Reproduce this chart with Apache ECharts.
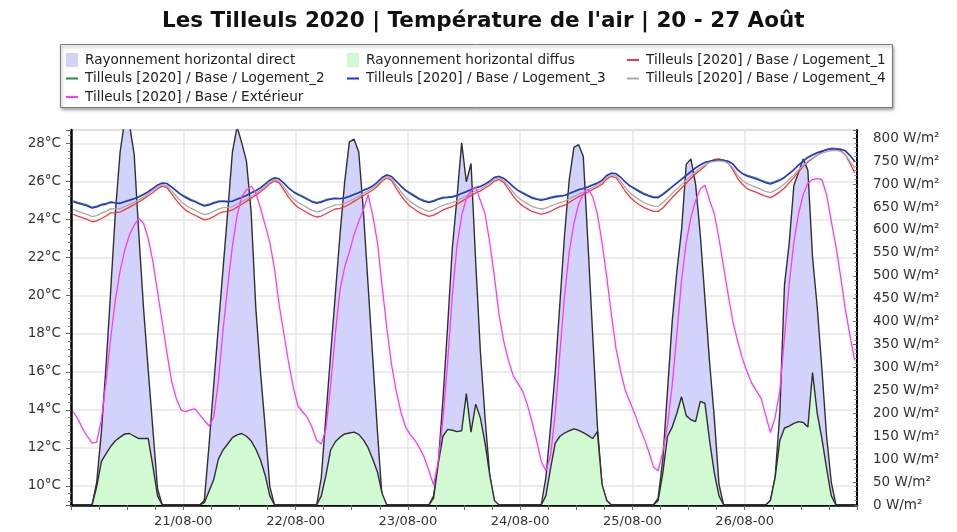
<!DOCTYPE html>
<html>
<head>
<meta charset="utf-8">
<script src="https://cdn.jsdelivr.net/npm/echarts@6/dist/echarts.min.js"></script>
<style>
  html, body { margin: 0; padding: 0; background: #ffffff; }
  #chart { width: 957px; height: 532px; }
</style>
</head>
<body>
<div id="chart"></div>
<script>
// Hourly values (sampled at hh:30), one row of 24 per day, 20/08 to 26/08.
const dayTickLabels = ['21/08-00', '22/08-00', '23/08-00', '24/08-00', '25/08-00', '26/08-00'];

// Horizontal solar radiation, W/m²
const directRad = [
  [0,0,0,0,0,50,160,305,470,640,770,840,830,765,590,430,295,165,35,0,0,0,0,0],
  [0,0,0,0,10,130,260,390,515,640,770,825,790,750,640,430,290,170,40,0,0,0,0,0],
  [0,0,0,0,0,60,195,330,460,590,705,792,798,770,640,480,320,160,15,0,0,0,0,0],
  [0,0,0,0,0,20,90,230,390,560,670,790,705,745,530,335,190,65,5,0,0,0,0,0],
  [0,0,0,0,0,60,170,290,440,590,710,780,786,760,570,372,174,43,10,0,0,0,0,0],
  [0,0,0,0,0,15,100,250,400,510,600,743,755,700,590,450,310,190,45,0,0,0,0,0],
  [0,0,0,0,0,10,60,200,480,570,697,725,755,730,540,432,296,150,50,0,0,0,0,0]
];
const diffuseRad = [
  [0,0,0,0,0,40,95,112,128,140,148,155,156,150,145,145,145,85,20,0,0,0,0,0],
  [0,0,0,0,5,30,55,100,120,133,147,153,156,150,140,122,98,65,20,0,0,0,0,0],
  [0,0,0,0,0,20,65,120,138,148,155,157,159,154,142,125,100,72,25,0,0,0,0,0],
  [0,0,0,0,0,15,90,150,165,163,160,162,243,159,220,190,135,65,10,0,0,0,0,0],
  [0,0,0,0,0,20,80,135,150,157,162,166,163,158,152,145,160,45,10,0,0,0,0,0],
  [0,0,0,0,0,10,70,150,170,200,236,195,186,182,226,222,140,70,20,0,0,0,0,0],
  [0,0,0,0,0,10,60,140,168,172,178,182,180,170,289,200,145,80,20,0,0,0,0,0]
];

// Air temperature, °C
const logement1 = [
  [24.27,24.17,24.08,24.00,23.88,23.93,24.05,24.18,24.35,24.36,24.39,24.52,24.65,24.78,24.92,25.08,25.25,25.42,25.62,25.75,25.68,25.35,25.02,24.72],
  [24.49,24.34,24.22,24.10,23.98,24.03,24.15,24.30,24.40,24.43,24.50,24.65,24.80,24.95,25.12,25.28,25.45,25.65,25.87,26.03,25.92,25.55,25.17,24.87],
  [24.64,24.50,24.35,24.22,24.13,24.18,24.30,24.43,24.55,24.58,24.67,24.80,24.95,25.10,25.26,25.40,25.55,25.75,26.02,26.18,26.05,25.65,25.27,24.94],
  [24.69,24.52,24.35,24.25,24.16,24.23,24.35,24.50,24.60,24.68,24.80,24.95,25.10,25.25,25.39,25.50,25.65,25.80,26.02,26.10,25.95,25.60,25.24,24.94],
  [24.72,24.57,24.42,24.35,24.28,24.33,24.42,24.56,24.67,24.75,24.90,25.05,25.20,25.32,25.44,25.58,25.70,25.85,26.12,26.27,26.20,25.85,25.47,25.17],
  [24.94,24.77,24.62,24.52,24.43,24.42,24.60,24.88,25.15,25.40,25.65,25.90,26.15,26.40,26.60,26.80,27.05,27.15,27.18,27.12,26.95,26.60,26.15,25.85],
  [25.62,25.52,25.42,25.32,25.22,25.15,25.28,25.45,25.65,25.92,26.20,26.50,26.78,27.02,27.20,27.38,27.55,27.68,27.75,27.73,27.62,27.40,26.95,26.45]
];
const logement2 = [
  [24.98,24.90,24.83,24.75,24.65,24.70,24.80,24.85,24.93,24.89,24.87,24.95,25.03,25.11,25.21,25.33,25.47,25.64,25.82,25.92,25.90,25.72,25.52,25.32],
  [25.20,25.07,24.97,24.85,24.75,24.80,24.90,24.97,24.98,24.96,24.98,25.08,25.18,25.28,25.41,25.53,25.67,25.87,26.07,26.20,26.14,25.92,25.67,25.47],
  [25.35,25.23,25.10,24.97,24.90,24.95,25.05,25.10,25.13,25.11,25.15,25.23,25.33,25.43,25.55,25.65,25.77,25.97,26.22,26.35,26.27,26.02,25.77,25.54],
  [25.40,25.25,25.10,25.00,24.93,25.00,25.10,25.17,25.18,25.21,25.28,25.38,25.48,25.58,25.68,25.75,25.87,26.02,26.22,26.27,26.17,25.97,25.74,25.54],
  [25.43,25.30,25.17,25.10,25.05,25.10,25.17,25.23,25.25,25.28,25.38,25.48,25.58,25.65,25.73,25.83,25.92,26.07,26.32,26.44,26.42,26.22,25.97,25.77],
  [25.65,25.50,25.37,25.27,25.20,25.19,25.35,25.55,25.73,25.93,26.13,26.33,26.53,26.73,26.88,27.01,27.07,27.12,27.14,27.12,27.07,26.92,26.62,26.42],
  [26.33,26.25,26.17,26.07,25.97,25.91,26.00,26.10,26.23,26.43,26.63,26.88,27.08,27.28,27.41,27.53,27.60,27.67,27.72,27.72,27.70,27.62,27.37,27.07]
];
const logement3 = [
  [24.93,24.85,24.78,24.70,24.60,24.65,24.75,24.80,24.90,24.86,24.84,24.92,25.00,25.08,25.18,25.30,25.45,25.62,25.80,25.90,25.88,25.70,25.50,25.30],
  [25.15,25.02,24.92,24.80,24.70,24.75,24.85,24.92,24.95,24.93,24.95,25.05,25.15,25.25,25.38,25.50,25.65,25.85,26.05,26.18,26.12,25.90,25.65,25.45],
  [25.30,25.18,25.05,24.92,24.85,24.90,25.00,25.05,25.10,25.08,25.12,25.20,25.30,25.40,25.52,25.62,25.75,25.95,26.20,26.33,26.25,26.00,25.75,25.52],
  [25.35,25.20,25.05,24.95,24.88,24.95,25.05,25.12,25.15,25.18,25.25,25.35,25.45,25.55,25.65,25.72,25.85,26.00,26.20,26.25,26.15,25.95,25.72,25.52],
  [25.38,25.25,25.12,25.05,25.00,25.05,25.12,25.18,25.22,25.25,25.35,25.45,25.55,25.62,25.70,25.80,25.90,26.05,26.30,26.42,26.40,26.20,25.95,25.75],
  [25.60,25.45,25.32,25.22,25.15,25.14,25.30,25.50,25.70,25.90,26.10,26.30,26.50,26.70,26.85,26.98,27.05,27.10,27.12,27.10,27.05,26.90,26.60,26.40],
  [26.28,26.20,26.12,26.02,25.92,25.86,25.95,26.05,26.20,26.40,26.60,26.85,27.05,27.25,27.38,27.50,27.58,27.65,27.70,27.70,27.68,27.60,27.35,27.05]
];
const logement4 = [
  [24.53,24.43,24.35,24.26,24.15,24.20,24.33,24.42,24.57,24.56,24.57,24.68,24.79,24.90,25.03,25.18,25.35,25.53,25.72,25.83,25.78,25.50,25.22,24.95],
  [24.75,24.60,24.49,24.36,24.25,24.30,24.43,24.54,24.62,24.63,24.68,24.81,24.94,25.07,25.23,25.38,25.55,25.76,25.97,26.11,26.02,25.70,25.37,25.10],
  [24.90,24.76,24.62,24.48,24.40,24.45,24.58,24.67,24.77,24.78,24.85,24.96,25.09,25.22,25.37,25.50,25.65,25.86,26.12,26.26,26.15,25.80,25.47,25.17],
  [24.95,24.78,24.62,24.51,24.43,24.50,24.63,24.74,24.82,24.88,24.98,25.11,25.24,25.37,25.50,25.60,25.75,25.91,26.12,26.18,26.05,25.75,25.44,25.17],
  [24.98,24.83,24.69,24.61,24.55,24.60,24.70,24.80,24.89,24.95,25.08,25.21,25.34,25.44,25.55,25.68,25.80,25.96,26.22,26.35,26.30,26.00,25.67,25.40],
  [25.20,25.03,24.89,24.78,24.70,24.69,24.88,25.12,25.37,25.60,25.83,26.06,26.29,26.52,26.70,26.86,27.00,27.05,27.08,27.05,26.95,26.70,26.32,26.05],
  [25.88,25.78,25.69,25.58,25.47,25.41,25.53,25.67,25.87,26.10,26.33,26.61,26.84,27.07,27.23,27.38,27.48,27.56,27.62,27.63,27.58,27.40,27.07,26.70]
];
const exterieur = [
  [13.9,13.5,13.0,12.6,12.25,12.3,13.5,15.5,17.8,19.8,21.3,22.4,23.2,23.7,24.05,23.8,23.0,21.8,20.2,18.6,17.0,15.5,14.6,14.0],
  [13.9,14.0,14.05,13.75,13.45,13.15,13.6,15.5,18.2,20.5,22.6,24.2,25.2,25.55,25.75,25.4,24.6,23.7,22.8,21.4,19.5,18.0,16.5,15.2],
  [14.2,13.9,13.6,13.1,12.4,12.2,13.0,15.3,18.0,20.3,21.5,22.3,23.2,23.9,24.5,25.3,24.2,22.8,20.5,18.3,16.4,15.0,13.9,13.1],
  [12.7,12.4,12.0,11.5,10.8,10.05,11.3,13.5,16.5,20.0,22.6,24.2,25.1,25.5,25.7,25.0,24.3,22.8,21.0,19.0,17.6,16.6,15.8,15.4],
  [15.0,14.3,13.4,12.4,11.3,10.8,11.6,13.8,17.0,20.0,22.3,23.8,24.8,25.35,25.6,25.2,24.3,22.8,21.0,19.0,17.2,16.0,15.0,14.4],
  [13.8,13.1,12.5,11.8,11.0,10.8,11.8,13.2,15.3,18.0,20.8,22.8,24.1,25.0,25.6,25.8,25.0,24.3,23.0,21.5,20.0,18.6,17.6,16.7],
  [16.0,15.4,15.0,14.6,13.7,12.8,13.6,15.0,17.8,20.6,22.8,24.3,25.3,25.9,26.1,26.15,26.1,25.3,23.9,22.6,21.0,19.3,17.9,16.6]
];

// Flatten day rows into [hour, value] pairs (hour counted from 20/08 00:00).
function toPoints(rows) {
  const pts = [];
  rows.forEach((row, d) => row.forEach((v, k) => pts.push([d * 24 + k + 0.5, v])));
  return pts;
}

const NAME_DIRECT = 'Rayonnement horizontal direct';
const NAME_DIFFUS = 'Rayonnement horizontal diffus';
const NAME_L1 = 'Tilleuls [2020] / Base / Logement_1';
const NAME_L2 = 'Tilleuls [2020] / Base / Logement_2';
const NAME_L3 = 'Tilleuls [2020] / Base / Logement_3';
const NAME_L4 = 'Tilleuls [2020] / Base / Logement_4';
const NAME_EXT = 'Tilleuls [2020] / Base / Extérieur';

const COL_DIRECT = '#d2d2fa';
const COL_DIFFUS = '#d2fad2';
const COL_L1 = '#ff3434';
const COL_L2 = '#2e8f2e';
const COL_L3 = '#2626ff';
const COL_L4 = '#a9a9a9';
const COL_EXT = '#ff38ff';

const FONT = 'DejaVu Sans';
const lineIcon = 'path://M0,0H12V2H0Z';

function legendBlock(left, items) {
  return {
    orient: 'vertical',
    left: left,
    top: 53,
    itemWidth: 12,
    itemHeight: 14,
    itemGap: 4.5,
    padding: 0,
    selectedMode: false,
    textStyle: { fontFamily: FONT, fontSize: 13.6, color: '#222', lineHeight: 14, padding: [0, 0, 0, 2] },
    data: items
  };
}

function tempLine(name, color, rows) {
  return {
    name: name, type: 'line', yAxisIndex: 0, data: toPoints(rows),
    showSymbol: false, symbol: 'none', smooth: false, z: 5,
    lineStyle: { color: color, width: 1.3 }, itemStyle: { color: color }
  };
}

function radArea(name, fill, rows, z) {
  return {
    name: name, type: 'line', yAxisIndex: 1, data: toPoints(rows),
    showSymbol: false, symbol: 'none', z: z, clip: true,
    lineStyle: { color: '#303030', width: 1.4 },
    areaStyle: { color: fill, opacity: 1 },
    itemStyle: { color: fill }
  };
}

const chart = echarts.init(document.getElementById('chart'), null, { renderer: 'canvas' });

chart.setOption({
  animation: false,
  backgroundColor: '#ffffff',
  title: {
    text: "Les Tilleuls 2020 | Température de l'air | 20 - 27 Août",
    left: 162,
    top: 10,
    padding: 0,
    textStyle: { fontFamily: FONT, fontWeight: 'bold', fontSize: 21.5, color: '#111' }
  },
  graphic: [{
    type: 'rect',
    shape: { x: 60.5, y: 44.5, width: 832, height: 63 },
    style: { fill: '#ffffff', stroke: '#7a7a7a', lineWidth: 1,
             shadowBlur: 3, shadowOffsetX: 1, shadowOffsetY: 2, shadowColor: 'rgba(0,0,0,0.35)' },
    z: -10, silent: true
  }],
  legend: [
    legendBlock(66, [
      { name: NAME_DIRECT, icon: 'rect', itemStyle: { color: COL_DIRECT, borderWidth: 0 } },
      { name: NAME_L2, icon: lineIcon, itemStyle: { color: COL_L2, borderWidth: 0 } },
      { name: NAME_EXT, icon: lineIcon, itemStyle: { color: COL_EXT, borderWidth: 0 } }
    ]),
    legendBlock(347, [
      { name: NAME_DIFFUS, icon: 'rect', itemStyle: { color: COL_DIFFUS, borderWidth: 0 } },
      { name: NAME_L3, icon: lineIcon, itemStyle: { color: COL_L3, borderWidth: 0 } }
    ]),
    legendBlock(627, [
      { name: NAME_L1, icon: lineIcon, itemStyle: { color: COL_L1, borderWidth: 0 } },
      { name: NAME_L4, icon: lineIcon, itemStyle: { color: COL_L4, borderWidth: 0 } }
    ])
  ],
  grid: {
    left: 71, right: 100, top: 130, bottom: 27,
    show: true, borderColor: '#9a9a9a', borderWidth: 1, backgroundColor: 'transparent'
  },
  xAxis: {
    type: 'value', min: 0, max: 168, interval: 24,
    axisLine: { show: true, onZero: false, lineStyle: { color: '#000', width: 2.5 } },
    axisTick: { show: true, length: 5, lineStyle: { color: '#666', width: 1 } },
    minorTick: { show: true, splitNumber: 4, length: 5, lineStyle: { color: '#666', width: 1 } },
    splitLine: { show: true, lineStyle: { color: '#e6e6e6', width: 1.5 } },
    axisLabel: {
      showMinLabel: false, showMaxLabel: false, margin: 10,
      fontFamily: FONT, fontSize: 13, color: '#333',
      formatter: v => dayTickLabels[v / 24 - 1] || ''
    }
  },
  yAxis: [
    {
      type: 'value', position: 'left', min: 9, max: 28.7, splitNumber: 10,
      axisLine: { show: true, onZero: false, lineStyle: { color: '#000', width: 2.5 } },
      axisTick: { show: true, length: 5, lineStyle: { color: '#666', width: 1 } },
      minorTick: { show: true, splitNumber: 5, length: 3, lineStyle: { color: '#888', width: 1 } },
      splitLine: { show: true, lineStyle: { color: '#e6e6e6', width: 1.5 } },
      axisLabel: {
        showMinLabel: false, showMaxLabel: false, margin: 10,
        fontFamily: FONT, fontSize: 13.5, color: '#333',
        formatter: '{value}°C'
      }
    },
    {
      type: 'value', position: 'right', min: 0, max: 818, interval: 50,
      axisLine: { show: true, onZero: false, lineStyle: { color: '#000', width: 2 } },
      axisTick: { show: true, inside: true, length: 4, lineStyle: { color: '#666', width: 1 } },
      minorTick: { show: true, splitNumber: 5, length: 2.5, lineStyle: { color: '#888', width: 1 } },
      splitLine: { show: false },
      axisLabel: {
        showMaxLabel: false, margin: 16,
        fontFamily: FONT, fontSize: 13.5, color: '#333',
        formatter: '{value} W/m²'
      }
    }
  ],
  series: [
    radArea(NAME_DIRECT, COL_DIRECT, directRad, 2),
    radArea(NAME_DIFFUS, COL_DIFFUS, diffuseRad, 3),
    tempLine(NAME_L1, COL_L1, logement1),
    tempLine(NAME_L2, COL_L2, logement2),
    tempLine(NAME_L3, COL_L3, logement3),
    tempLine(NAME_L4, COL_L4, logement4),
    tempLine(NAME_EXT, COL_EXT, exterieur)
  ]
});
</script>
</body>
</html>
